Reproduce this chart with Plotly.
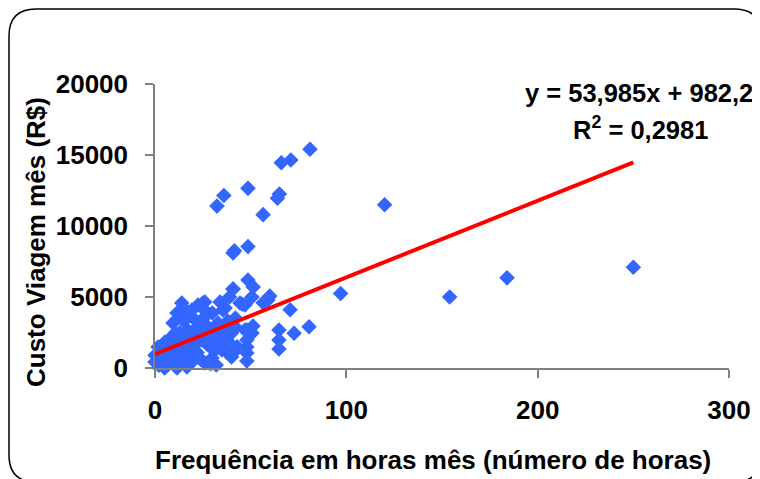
import plotly.graph_objects as go

# Frequência em horas mês (x) and Custo Viagem mês (y)
horas = [
    81, 66, 71, 48.6, 36, 32.4, 65, 64, 56.5, 120,
    40.8, 41.5, 48.6, 48.6, 51.3, 40.8, 60, 56.5, 70.6, 25, 44.4, 97,
    250, 184, 154,
    80.5, 72.7, 64.8, 64.8, 64.8, 51.2, 48, 48, 48, 48, 48,
    59, 45.5, 40.8, 42.9, 40.8, 35.5, 34,
    50.7, 39, 34, 26, 22.5, 14, 11.5, 17, 21, 30, 36.6, 42, 47, 47, 50.7,
    36.6, 43, 37.6, 29.8, 22.5, 16.7, 11.5, 5, 1.6, 0, 9.4, 10.5, 5.2, 15.7,
    26, 33, 30, 24.6, 19.3, 14, 9, 3.7, 12, 19.3, 26, 32, 5, 1.6, 7.8, 12,
    17, 22.5, 27.7, 35, 40, 42, 21, 30, 35, 40, 15.7, 0, 15.7, 19.3, 26,
    2, 3, 4, 6, 7, 8, 10, 13, 18, 20, 23, 24, 27, 28, 31, 38, 2.5, 6.5, 9,
    13, 17.5, 20, 24, 28, 33, 36, 38, 4, 8, 11, 14.5, 18, 22, 25, 29,
]
custo = [
    15400, 14450, 14650, 12650, 12150, 11400, 12250, 11950, 10800, 11500,
    8100, 8250, 8550, 6200, 5700, 5560, 5070, 4600, 4100, 4580, 4580, 5250,
    7100, 6350, 5000,
    2900, 2450, 2680, 1970, 1340, 2960, 2680, 1970, 1480, 1060, 490,
    4790, 4500, 5560, 1480, 1060, 4080, 2890,
    5000, 5000, 4650, 4650, 4440, 4580, 3870, 3940, 3380, 3870, 4220, 3520, 4440, 2680, 2460,
    1970, 1480, 1130, 700, 780, 70, 0, 0, 350, 900, 3170, 2460, 1830, 2180,
    3600, 3170, 2460, 1970, 1480, 1270, 1060, 560, 560, 420, 350, 210, 1130, 1480, 1760, 1970,
    2680, 2890, 2890, 2680, 2460, 2890, 2110, 1480, 1270, 780, 780, 420, 3380, 4080, 4080,
    200, 600, 1300, 900, 400, 1400, 1600, 1000, 1800, 2300, 1900, 600, 1700, 2200, 1200, 1900, 1200, 200, 400,
    2500, 1000, 2600, 3100, 2300, 2000, 3000, 3300, 700, 2100, 300, 3400, 500, 1100, 2400, 300,
]

# Linear trendline reported on the chart
slope = 53.985
intercept = 982.2
r2_text = "0,2981"
trend_x = [0, 250]

x_ticks = [0, 100, 200, 300]
y_ticks = [0, 5000, 10000, 15000, 20000]

# page body has an 8px margin; design in window pixels
OFF = 8
WIN_W, WIN_H = 760, 479
PL, PR, PT, PB = 155, 729, 84, 368  # plot area in window pixels
pw, ph = PR - PL, PB - PT
W, H = WIN_W - OFF, WIN_H - OFF
L, T = PL - OFF, PT - OFF
R, B = W - L - pw, H - T - ph


def px(x):
    return (x - PL) / pw


def py(y):
    return (PB - y) / ph


FONT = "Liberation Sans, Arial, sans-serif"
FS = 26

fig = go.Figure()
fig.add_trace(go.Scatter(
    x=horas, y=custo, mode="markers",
    marker=dict(symbol="diamond", size=12, color="#3366FF", line=dict(width=0)),
    cliponaxis=False, showlegend=False,
))
fig.add_trace(go.Scatter(
    x=trend_x, y=[slope * v + intercept for v in trend_x], mode="lines",
    line=dict(color="#FF0000", width=4), showlegend=False, cliponaxis=False,
))

axis_common = dict(
    showgrid=False, zeroline=False, showline=True, linecolor="#808080", linewidth=1.5,
    ticks="outside", ticklen=8, tickcolor="#808080", tickwidth=1.5,
    tickfont=dict(family=FONT, size=FS, color="black", weight="bold"),
)
fig.update_xaxes(range=[0, 300], tickvals=x_ticks, ticktext=[str(v) for v in x_ticks],
                 ticklabelstandoff=10, **axis_common)
fig.update_yaxes(range=[0, 20000], tickvals=y_ticks, ticktext=[str(v) for v in y_ticks],
                 ticklabelstandoff=12, **axis_common)

# rounded chart border
x0, y0, x1, y1, r = 9, 9, 761, 482, 27
path = (
    f"M {px(x0 + r)},{py(y0)} L {px(x1 - r)},{py(y0)} Q {px(x1)},{py(y0)} {px(x1)},{py(y0 + r)} "
    f"L {px(x1)},{py(y1 - r)} Q {px(x1)},{py(y1)} {px(x1 - r)},{py(y1)} "
    f"L {px(x0 + r)},{py(y1)} Q {px(x0)},{py(y1)} {px(x0)},{py(y1 - r)} "
    f"L {px(x0)},{py(y0 + r)} Q {px(x0)},{py(y0)} {px(x0 + r)},{py(y0)} Z"
)
fig.add_shape(type="path", path=path, xref="paper", yref="paper",
              line=dict(color="black", width=1.5), layer="below")

tfont = dict(family=FONT, size=FS, color="black", weight="bold")
eq_font = dict(family=FONT, size=25.5, color="black", weight="bold")
fig.add_annotation(text=f"y = {str(slope).replace('.', ',')}x + {str(intercept).replace('.', ',')}",
                   xref="paper", yref="paper", x=px(639), y=py(93),
                   xanchor="center", yanchor="middle", showarrow=False, font=eq_font)
fig.add_annotation(text=f"R<sup>2</sup> = {r2_text}",
                   xref="paper", yref="paper", x=px(640), y=py(128),
                   xanchor="center", yanchor="middle", showarrow=False, font=eq_font)
fig.add_annotation(text="Custo Viagem mês (R$)", textangle=-90,
                   xref="paper", yref="paper", x=px(36), y=py(242),
                   xanchor="center", yanchor="middle", showarrow=False, font=tfont)
fig.add_annotation(text="Frequência em horas mês (número de horas)",
                   xref="paper", yref="paper", x=px(433), y=py(460),
                   xanchor="center", yanchor="middle", showarrow=False, font=tfont)

fig.update_layout(
    width=W, height=H, margin=dict(l=L, r=R, t=T, b=B, autoexpand=False),
    paper_bgcolor="white", plot_bgcolor="white",
)
fig.write_html("out.html")
